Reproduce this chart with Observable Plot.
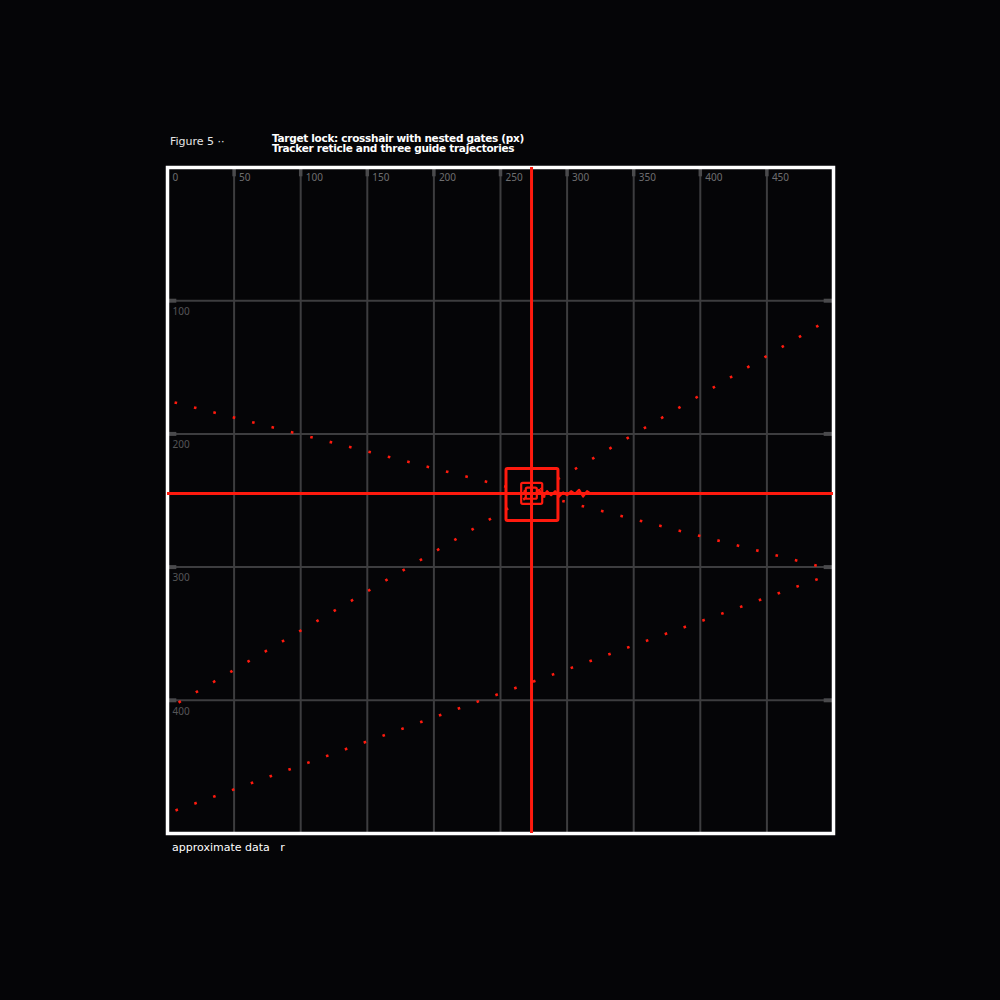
<!DOCTYPE html>
<html><head><meta charset="utf-8">
<script src="https://cdn.jsdelivr.net/npm/d3@7"></script>
<script src="https://cdn.jsdelivr.net/npm/@observablehq/plot@0.6"></script>
<style>
html,body{margin:0;padding:0;background:#050507;width:1000px;height:1000px;overflow:hidden;font-family:"DejaVu Sans",sans-serif;}
#title{position:absolute;left:170px;top:133px;color:#fff;}
#title .lead{position:absolute;left:0;top:2px;font-size:11px;color:#e6e6e6;white-space:nowrap;}
#title .main{position:absolute;left:102px;top:0;font-size:10.5px;font-weight:bold;line-height:10px;white-space:nowrap;letter-spacing:-0.3px;}
#chart{position:absolute;left:157px;top:157px;}
#caption{position:absolute;left:172px;top:841px;font-size:11px;color:#fff;white-space:nowrap;}
</style></head>
<body>
<div id="title"><span class="lead">Figure 5 ··</span><div class="main">Target lock: crosshair with nested gates (px)<br>Tracker reticle and three guide trajectories</div></div>
<div id="chart"></div>
<div id="caption">approximate data&nbsp;&nbsp;&nbsp;r</div>
<script>
// ---- data ----
const xTicks = [0, 50, 100, 150, 200, 250, 300, 350, 400, 450];
const yTicks = [100, 200, 300, 400];
const xTickLabels = ["0", "50", "100", "150", "200", "250", "300", "350", "400", "450"];
const yTickLabels = ["100", "200", "300", "400"];

// dotted guide trajectories (start / end)
const guideNames = ["A", "B", "C"];
const guideX1 = [5.3, 8.3, 6.0];
const guideY1 = [176.4, 401.7, 482.7];
const guideX2 = [487.4, 489.0, 488.2];
const guideY2 = [298.9, 118.5, 309.0];

// crosshair
const crossX = 273.3;
const crossY = 244.7;

// nested gates (box centers and side lengths)
const gateCenterX = [274.0, 273.8, 273.5];
const gateCenterY = [245.9, 245.0, 244.9];
const gateSize = [39, 15.8, 8.3];

// short jittery trail leaving the target
const trailX = [276, 279, 282, 285, 288, 291, 294, 297, 300, 303, 306, 309, 312, 315, 318];
const trailY = [245, 242, 247, 243, 246, 243, 247, 244, 246, 243, 245, 242, 247, 243, 245];

// ---- build ----
const guides = guideNames.map((n, i) => ({n, x1: guideX1[i], y1: guideY1[i], x2: guideX2[i], y2: guideY2[i]}));
const gates = gateSize.map((s, i) => ({x1: gateCenterX[i] - s / 2, x2: gateCenterX[i] + s / 2, y1: gateCenterY[i] - s / 2, y2: gateCenterY[i] + s / 2, w: i === 0 ? 3 : 2.2}));
const trail = trailX.map((x, i) => ({x, y: trailY[i]}));
const xT = xTicks.map((v, i) => ({v, label: xTickLabels[i]}));
const yT = yTicks.map((v, i) => ({v, label: yTickLabels[i]}));

const RED = "#ff1a0e";
const GRID = "#3d3d3f";

const chart = Plot.plot({
  width: 686,
  height: 686,
  margin: 10,
  style: {background: "transparent", overflow: "visible"},
  x: {domain: [0, 500], axis: null},
  y: {domain: [0, 500], reverse: true, axis: null},
  marks: [
    Plot.ruleX(xTicks.slice(1), {stroke: GRID, strokeWidth: 2}),
    Plot.ruleY(yTicks, {stroke: GRID, strokeWidth: 2}),
    Plot.ruleX(xTicks.slice(1), {y1: 0, y2: 7, stroke: "#4a4a4c", strokeWidth: 3.5}),
    Plot.ruleY(yTicks, {x1: 0, x2: 7, stroke: "#4a4a4c", strokeWidth: 4}),
    Plot.ruleY(yTicks, {x1: 493, x2: 500, stroke: "#4a4a4c", strokeWidth: 4}),
    Plot.text(xT, {x: "v", y: 0, text: "label", dx: 5, dy: 10, textAnchor: "start", fill: "#6e6e70", fontSize: 10}),
    Plot.text(yT, {x: 0, y: "v", text: "label", dx: 5, dy: 11, textAnchor: "start", fill: "#555557", fontSize: 10}),
    Plot.frame({stroke: "#ffffff", strokeWidth: 3.5}),
    Plot.link(guides, {x1: "x1", y1: "y1", x2: "x2", y2: "y2", stroke: RED, strokeWidth: 2.6, strokeDasharray: "2.6,17.4", strokeLinecap: "butt"}),
    Plot.ruleX([crossX], {stroke: RED, strokeWidth: 3}),
    Plot.ruleY([crossY], {stroke: RED, strokeWidth: 3}),
    Plot.rect(gates, {x1: "x1", x2: "x2", y1: "y1", y2: "y2", fill: "none", stroke: RED, strokeWidth: "w", rx: 1.5}),
    Plot.line(trail, {x: "x", y: "y", stroke: RED, strokeWidth: 2.2, curve: "linear"})
  ]
});
document.getElementById("chart").append(chart);
</script>
</body></html>
